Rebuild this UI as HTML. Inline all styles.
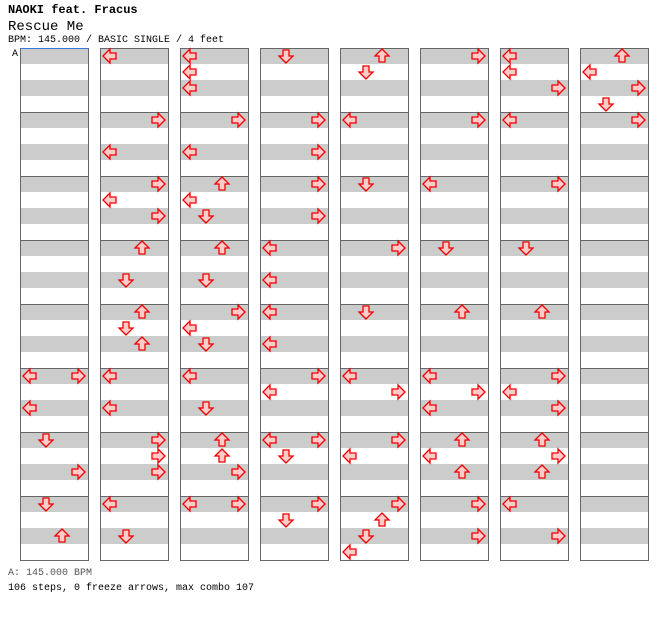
<!DOCTYPE html>
<html><head><meta charset="utf-8"><style>
body{margin:0;background:#fff;width:672px;height:620px;overflow:hidden;font-family:"Liberation Mono",monospace;}
.t{position:absolute;left:8px;white-space:nowrap;color:#000}
</style></head><body>
<div class="t" style="top:3px;font-size:12px;font-weight:bold">NAOKI feat. Fracus</div>
<div class="t" style="top:19px;font-size:14px">Rescue Me</div>
<div class="t" style="top:35px;font-size:10px">BPM: 145.000 / BASIC SINGLE / 4 feet</div>
<div class="t" style="top:568px;font-size:10px;color:#555">A: 145.000 BPM</div>
<div class="t" style="top:583px;font-size:10px">106 steps, 0 freeze arrows, max combo 107</div>
<svg id="chart" width="672" height="620" style="position:absolute;left:0;top:0">
<text x="12" y="56" font-family="Liberation Mono, monospace" font-size="10">A</text>
</svg>
<script>
const lanes = ['L','D','U','R'];
const notes = [
 [0,5,0,'L'],[0,5,0,'R'],[0,5,4,'L'],[0,6,0,'D'],[0,6,4,'R'],[0,7,0,'D'],[0,7,4,'U'],
 [1,0,0,'L'],[1,1,0,'R'],[1,1,4,'L'],[1,2,0,'R'],[1,2,2,'L'],[1,2,4,'R'],[1,3,0,'U'],[1,3,4,'D'],
 [1,4,0,'U'],[1,4,2,'D'],[1,4,4,'U'],[1,5,0,'L'],[1,5,4,'L'],[1,6,0,'R'],[1,6,2,'R'],[1,6,4,'R'],[1,7,0,'L'],[1,7,4,'D'],
 [2,0,0,'L'],[2,0,2,'L'],[2,0,4,'L'],[2,1,0,'R'],[2,1,4,'L'],[2,2,0,'U'],[2,2,2,'L'],[2,2,4,'D'],[2,3,0,'U'],[2,3,4,'D'],
 [2,4,0,'R'],[2,4,2,'L'],[2,4,4,'D'],[2,5,0,'L'],[2,5,4,'D'],[2,6,0,'U'],[2,6,2,'U'],[2,6,4,'R'],[2,7,0,'L'],[2,7,0,'R'],
 [3,0,0,'D'],[3,1,0,'R'],[3,1,4,'R'],[3,2,0,'R'],[3,2,4,'R'],[3,3,0,'L'],[3,3,4,'L'],[3,4,0,'L'],[3,4,4,'L'],
 [3,5,0,'R'],[3,5,2,'L'],[3,6,0,'L'],[3,6,0,'R'],[3,6,2,'D'],[3,7,0,'R'],[3,7,2,'D'],
 [4,0,0,'U'],[4,0,2,'D'],[4,1,0,'L'],[4,2,0,'D'],[4,3,0,'R'],[4,4,0,'D'],[4,5,0,'L'],[4,5,2,'R'],[4,6,0,'R'],[4,6,2,'L'],
 [4,7,0,'R'],[4,7,2,'U'],[4,7,4,'D'],[4,7,6,'L'],
 [5,0,0,'R'],[5,1,0,'R'],[5,2,0,'L'],[5,3,0,'D'],[5,4,0,'U'],[5,5,0,'L'],[5,5,2,'R'],[5,5,4,'L'],[5,6,0,'U'],[5,6,2,'L'],[5,6,4,'U'],[5,7,0,'R'],[5,7,4,'R'],
 [6,0,0,'L'],[6,0,2,'L'],[6,0,4,'R'],[6,1,0,'L'],[6,2,0,'R'],[6,3,0,'D'],[6,4,0,'U'],[6,5,0,'R'],[6,5,2,'L'],[6,5,4,'R'],[6,6,0,'U'],[6,6,2,'R'],[6,6,4,'U'],[6,7,0,'L'],[6,7,4,'R'],
 [7,0,0,'U'],[7,0,2,'L'],[7,0,4,'R'],[7,0,6,'D'],[7,1,0,'R']
];
const columnCount = 8;
const measuresPerColumn = 8;

const svg = document.getElementById('chart');
const NS = 'http://www.w3.org/2000/svg';
const colX = c => 20 + c * 80;
const measY = m => 48 + m * 64;
const laneX = l => 10 + lanes.indexOf(l) * 16;
const rot = {L:0, U:90, R:180, D:-90};

for (let c = 0; c < columnCount; c++) {
  const g = document.createElementNS(NS, 'g');
  
  
  const h = measuresPerColumn * 64;
  for (let b = 0; b < measuresPerColumn * 4; b++) {
    if (b % 2 === 0) {
      const r = document.createElementNS(NS, 'rect');
      r.setAttribute('x', colX(c)); r.setAttribute('y', 48 + b * 16);
      r.setAttribute('width', 68); r.setAttribute('height', 16);
      r.setAttribute('fill', '#cccccc');
      
      
      g.appendChild(r);
    }
  }
  for (let m = 1; m < measuresPerColumn; m++) {
    const ln = document.createElementNS(NS, 'line');
    ln.setAttribute('x1', colX(c)); ln.setAttribute('x2', colX(c) + 68);
    ln.setAttribute('y1', measY(m) + 0.5); ln.setAttribute('y2', measY(m) + 0.5);
    ln.setAttribute('stroke', '#666'); ln.setAttribute('stroke-width', 1);
    
    
    g.appendChild(ln);
  }
  const box = document.createElementNS(NS, 'rect');
  box.setAttribute('x', colX(c) + 0.5); box.setAttribute('y', 48.5);
  box.setAttribute('width', 68); box.setAttribute('height', h);
  box.setAttribute('fill', 'none'); box.setAttribute('stroke', '#666');
  
  
  g.appendChild(box);
  svg.appendChild(g);
}
const bl = document.createElementNS(NS, 'line');
bl.setAttribute('x1', 20); bl.setAttribute('x2', 89); bl.setAttribute('y1', 48.5); bl.setAttribute('y2', 48.5);
bl.setAttribute('stroke', '#3377dd');


svg.appendChild(bl);

notes.forEach(n => {
  const [c, m, e, l] = n;
  const cx = colX(c) + laneX(l);
  const cy = measY(m) + 8 + e * 8;
  const p = document.createElementNS(NS, 'path');
  p.setAttribute('d', 'M-7,0 L0,-7 L0,-3 L6,-3 L6,3 L0,3 L0,7 Z');
  p.setAttribute('transform', 'translate(' + cx + ',' + cy + ') rotate(' + rot[l] + ')');
  p.setAttribute('fill', '#ffcccc'); p.setAttribute('stroke', '#ee0000'); p.setAttribute('stroke-width', 1.3);
  p.setAttribute('stroke-linejoin', 'miter');
  
  
  svg.appendChild(p);
});
</script>
</body></html>
